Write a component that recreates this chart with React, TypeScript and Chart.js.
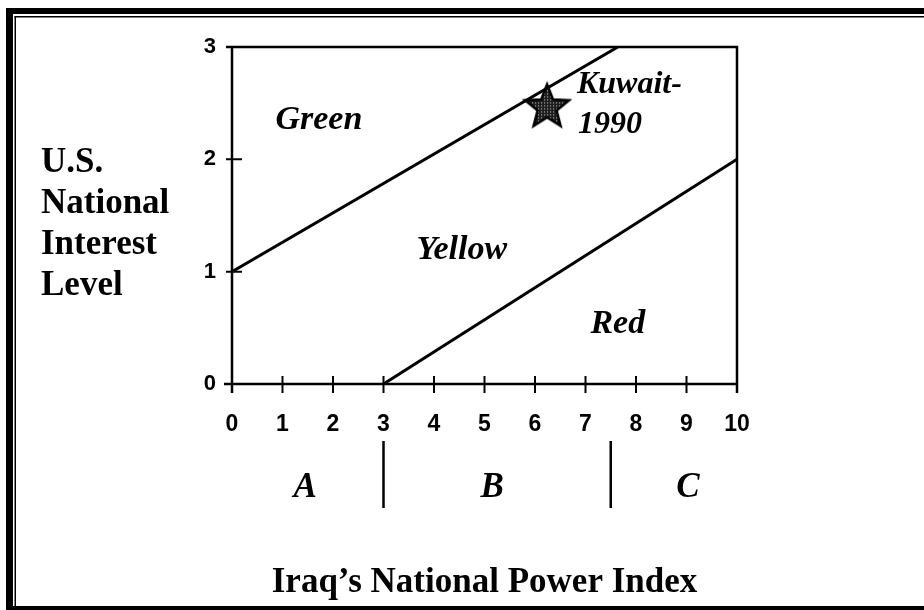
import React, { useEffect, useRef } from "react";
import { Chart, registerables } from "chart.js";
Chart.register(...registerables);

const xTicks = [0, 1, 2, 3, 4, 5, 6, 7, 8, 9, 10];
const yTicks = [0, 1, 2, 3];
const upperBoundary = [{ x: 0, y: 1 }, { x: 7.64, y: 3 }];
const lowerBoundary = [{ x: 3, y: 0 }, { x: 10, y: 2 }];
const kuwaitPoint = [{ x: 6.24, y: 2.48 }];
const zoneLabels = ["Green", "Yellow", "Red"];
const zoneLabelX = [1.72, 4.55, 7.64];
const zoneLabelY = [2.35, 1.19, 0.53];
const pointLabelLines = ["Kuwait-", "1990"];
const pointLabelX = [6.83, 6.85];
const pointLabelY = [2.66, 2.31];
const bandLabels = ["A", "B", "C"];
const bandLabelX = [1.45, 5.15, 9.03];
const bandDividers = [3, 7.5];
const yTitleLines = ["U.S.", "National", "Interest", "Level"];
const xTitle = "Iraq\u2019s National Power Index";

function makeStar(): HTMLCanvasElement {
  const size = 50;
  const c = document.createElement("canvas");
  c.width = size;
  c.height = size;
  const g = c.getContext("2d")!;
  const pat = document.createElement("canvas");
  pat.width = 3;
  pat.height = 3;
  const p = pat.getContext("2d")!;
  p.fillStyle = "#1e1e1e";
  p.fillRect(0, 0, 3, 3);
  p.fillStyle = "#d0d0d0";
  p.fillRect(1, 1, 1, 1);
  const cx = size / 2, cy = size / 2 + 2, ro = 23, ri = 10;
  g.beginPath();
  for (let i = 0; i < 10; i++) {
    const r = i % 2 === 0 ? ro : ri;
    const a = -Math.PI / 2 + (i * Math.PI) / 5;
    const px = cx + r * Math.cos(a);
    const py = cy + r * Math.sin(a);
    if (i === 0) g.moveTo(px, py);
    else g.lineTo(px, py);
  }
  g.closePath();
  g.fillStyle = g.createPattern(pat, "repeat")!;
  g.fill();
  g.lineWidth = 2.5;
  g.strokeStyle = "#000";
  g.lineJoin = "miter";
  g.stroke();
  return c;
}

const decorPlugin = {
  id: "decor",
  afterDatasetsDraw(chart: any) {
    const { ctx, chartArea: ca, scales } = chart;
    const xs = scales.x, ys = scales.y;
    ctx.save();
    // page frame
    ctx.fillStyle = "#000";
    ctx.fillRect(6, 8, 7, 602);
    ctx.fillRect(6, 8, 918, 6);
    ctx.fillRect(6, 606, 918, 4);
    ctx.fillRect(14.5, 16, 1.5, 590);
    ctx.fillRect(14.5, 16, 910, 1.5);

    // plot box
    ctx.strokeStyle = "#000";
    ctx.lineWidth = 2.5;
    ctx.beginPath();
    ctx.moveTo(ca.left - 6, ca.top);
    ctx.lineTo(ca.right, ca.top);
    ctx.lineTo(ca.right, ca.bottom + 9);
    ctx.moveTo(ca.left, ca.top);
    ctx.lineTo(ca.left, ca.bottom + 9);
    ctx.moveTo(ca.left - 8, ca.bottom);
    ctx.lineTo(ca.right, ca.bottom);
    ctx.stroke();
    ctx.lineWidth = 2;
    ctx.beginPath();
    for (const v of xTicks) {
      const px = xs.getPixelForValue(v);
      ctx.moveTo(px, ca.bottom - 8);
      ctx.lineTo(px, ca.bottom + 9);
    }
    for (const v of yTicks) {
      const py = ys.getPixelForValue(v);
      ctx.moveTo(ca.left - 6, py);
      ctx.lineTo(ca.left + 10, py);
    }
    ctx.stroke();

    // zone labels
    ctx.fillStyle = "#000";
    ctx.font = "italic bold 34px 'Liberation Serif'";
    ctx.textAlign = "center";
    ctx.textBaseline = "middle";
    zoneLabels.forEach((t, i) => {
      ctx.fillText(t, xs.getPixelForValue(zoneLabelX[i]), ys.getPixelForValue(zoneLabelY[i]));
    });
    ctx.font = "italic bold 32px 'Liberation Serif'";
    ctx.textAlign = "left";
    pointLabelLines.forEach((t, i) => {
      ctx.fillText(t, xs.getPixelForValue(pointLabelX[i]), ys.getPixelForValue(pointLabelY[i]));
    });

    // bands
    ctx.font = "italic bold 35px 'Liberation Serif'";
    ctx.textAlign = "center";
    bandLabels.forEach((t, i) => {
      ctx.fillText(t, xs.getPixelForValue(bandLabelX[i]), ca.bottom + 104);
    });
    ctx.lineWidth = 2.5;
    ctx.beginPath();
    for (const v of bandDividers) {
      const px = xs.getPixelForValue(v);
      ctx.moveTo(px, ca.bottom + 57);
      ctx.lineTo(px, ca.bottom + 124);
    }
    ctx.stroke();

    // titles
    ctx.font = "bold 35px 'Liberation Serif'";
    ctx.textAlign = "left";
    ctx.textBaseline = "alphabetic";
    yTitleLines.forEach((t, i) => {
      ctx.fillText(t, 41, 172 + i * 41);
    });
    ctx.font = "bold 35px 'Liberation Serif'";
    ctx.textAlign = "center";
    ctx.fillText(xTitle, (ca.left + ca.right) / 2, 592);
    ctx.restore();
  },
};

export default function App() {
  const ref = useRef<HTMLCanvasElement | null>(null);
  useEffect(() => {
    const canvas = ref.current!;
    const star = makeStar();
    const xFont = { family: "'Liberation Sans', Arial, sans-serif", weight: "bold" as const, size: 23 };
    const yFont = { family: "'Liberation Sans', Arial, sans-serif", weight: "bold" as const, size: 22 };
    const chart = new Chart(canvas, {
      type: "scatter",
      data: {
        datasets: [
          {
            data: upperBoundary,
            showLine: true,
            borderColor: "#000",
            borderWidth: 3,
            pointRadius: 0,
          },
          {
            data: lowerBoundary,
            showLine: true,
            borderColor: "#000",
            borderWidth: 3,
            pointRadius: 0,
          },
          {
            data: kuwaitPoint,
            pointStyle: star as any,
            pointRadius: 20,
          },
        ],
      },
      options: {
        animation: false,
        responsive: false,
        devicePixelRatio: 1,
        layout: { padding: { top: 47, right: 187, bottom: 0, left: 0 } },
        plugins: { legend: { display: false }, tooltip: { enabled: false } },
        scales: {
          x: {
            type: "linear",
            min: 0,
            max: 10,
            afterBuildTicks: (s: any) => {
              s.ticks = xTicks.map((v) => ({ value: v }));
            },
            afterFit: (s: any) => {
              s.height = 226;
            },
            grid: { display: false, drawTicks: false },
            border: { display: false },
            ticks: { color: "#000", font: xFont, padding: 27, maxRotation: 0 },
          },
          y: {
            type: "linear",
            min: 0,
            max: 3,
            afterBuildTicks: (s: any) => {
              s.ticks = yTicks.map((v) => ({ value: v }));
            },
            afterFit: (s: any) => {
              s.width = 232;
            },
            grid: { display: false, drawTicks: false },
            border: { display: false },
            ticks: { color: "#000", font: yFont, padding: 16 },
          },
        },
      },
      plugins: [decorPlugin],
    });
    return () => chart.destroy();
  }, []);
  return (
    <div style={{ position: "fixed", left: 0, top: 0, width: 924, height: 610, background: "#fff" }}>
      <canvas ref={ref} width={924} height={610} style={{ display: "block" }} />
    </div>
  );
}
